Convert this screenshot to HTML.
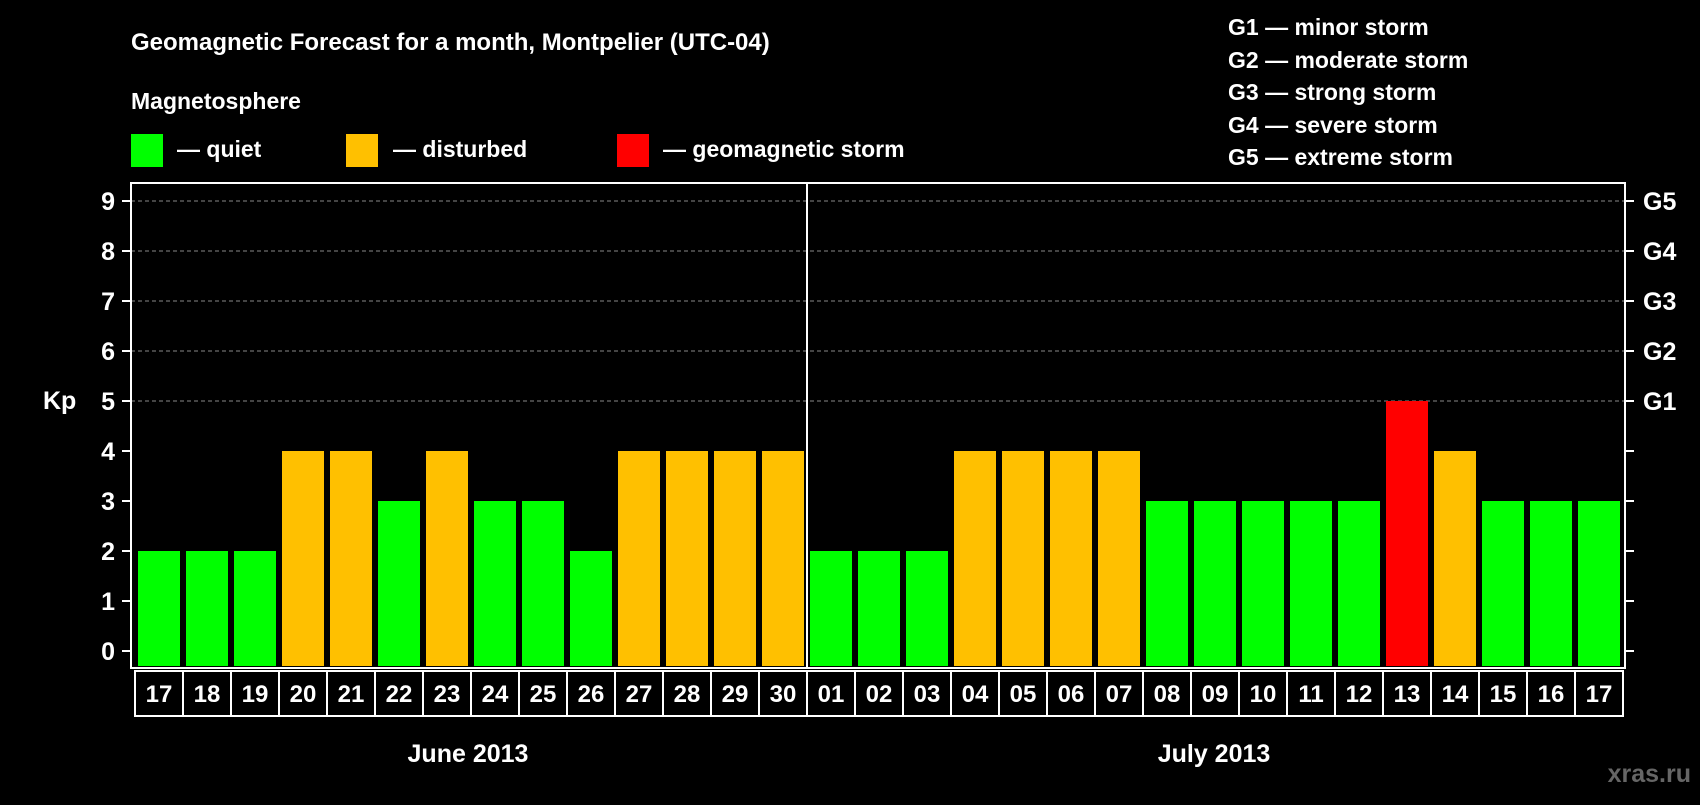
<!DOCTYPE html>
<html><head><meta charset="utf-8"><style>
body{margin:0;background:#000;width:1700px;height:800px;overflow:hidden;font-family:"Liberation Sans",sans-serif}
svg text{font-family:"Liberation Sans",sans-serif;font-weight:bold;fill:#fff}
</style></head><body>
<svg id="c" width="1700" height="800">
<text x="131" y="50" font-size="24">Geomagnetic Forecast for a month, Montpelier (UTC-04)</text>
<text x="131" y="109" font-size="23">Magnetosphere</text>
<rect x="131" y="134" width="32" height="33" fill="#00ff00"/>
<text x="177" y="157" font-size="23">— quiet</text>
<rect x="346" y="134" width="32" height="33" fill="#ffc000"/>
<text x="393" y="157" font-size="23">— disturbed</text>
<rect x="617" y="134" width="32" height="33" fill="#ff0000"/>
<text x="663" y="157" font-size="23">— geomagnetic storm</text>
<g font-size="23">
<text x="1228" y="35">G1 — minor storm</text>
<text x="1228" y="68">G2 — moderate storm</text>
<text x="1228" y="100">G3 — strong storm</text>
<text x="1228" y="133">G4 — severe storm</text>
<text x="1228" y="165">G5 — extreme storm</text>
</g>
<text x="43" y="409" font-size="25">Kp</text>
<text x="468" y="762" font-size="25" text-anchor="middle">June 2013</text>
<text x="1214" y="762" font-size="25" text-anchor="middle">July 2013</text>
<text x="1691" y="782" font-size="25" text-anchor="end" style="fill:#666">xras.ru</text>
<g id="plot"></g>
</svg>
<script>
const days=["17","18","19","20","21","22","23","24","25","26","27","28","29","30","01","02","03","04","05","06","07","08","09","10","11","12","13","14","15","16","17"];
const kp=[2,2,2,4,4,3,4,3,3,2,4,4,4,4,2,2,2,4,4,4,4,3,3,3,3,3,5,4,3,3,3];
const yTicks=[0,1,2,3,4,5,6,7,8,9];
const gLabels=["G1","G2","G3","G4","G5"];
const L=131,R=1625,T=183,B=668,X0=135,CW=48;
const y=v=>651-v*50;
const x=i=>X0+i*CW;
const g=document.getElementById('plot');
const NS="http://www.w3.org/2000/svg";
function mk(t,a){const e=document.createElementNS(NS,t);for(const k in a)e.setAttribute(k,a[k]);g.appendChild(e);return e;}
yTicks.forEach(v=>{
 if(v>=5){const l=mk('line',{x1:L,x2:R,y1:y(v),y2:y(v),stroke:'#888','stroke-dasharray':'4,3'});
 
 }
 const t1=mk('line',{x1:L-9,x2:L,y1:y(v),y2:y(v),stroke:'#fff','stroke-width':2});
 
 
 const t2=mk('line',{x1:R,x2:R+9,y1:y(v),y2:y(v),stroke:'#fff','stroke-width':2});
 
 
 const tx=mk('text',{x:115,y:y(v)+9,'font-size':25,'text-anchor':'end'});tx.textContent=v;
 
 
});
gLabels.forEach((s,i)=>{const t=mk('text',{x:1643,y:y(5+i)+9,'font-size':25});t.textContent=s;
 
 });
kp.forEach((v,i)=>{
 const c=v>=5?'#ff0000':v>=4?'#ffc000':'#00ff00';
 const r=mk('rect',{x:x(i)+3,y:y(v),width:CW-6,height:B-2-y(v),fill:c});
 
 
 const b=mk('rect',{x:x(i),y:671,width:CW,height:45,fill:'none',stroke:'#fff','stroke-width':2});
 
 
 const t=mk('text',{x:x(i)+CW/2,y:702,'font-size':24,'text-anchor':'middle'});t.textContent=days[i];
 
 
});
const f=mk('rect',{x:L,y:T,width:R-L,height:B-T,fill:'none',stroke:'#fff','stroke-width':2});


const d=mk('line',{x1:x(14),x2:x(14),y1:T,y2:B,stroke:'#fff','stroke-width':2});


</script>
</body></html>
